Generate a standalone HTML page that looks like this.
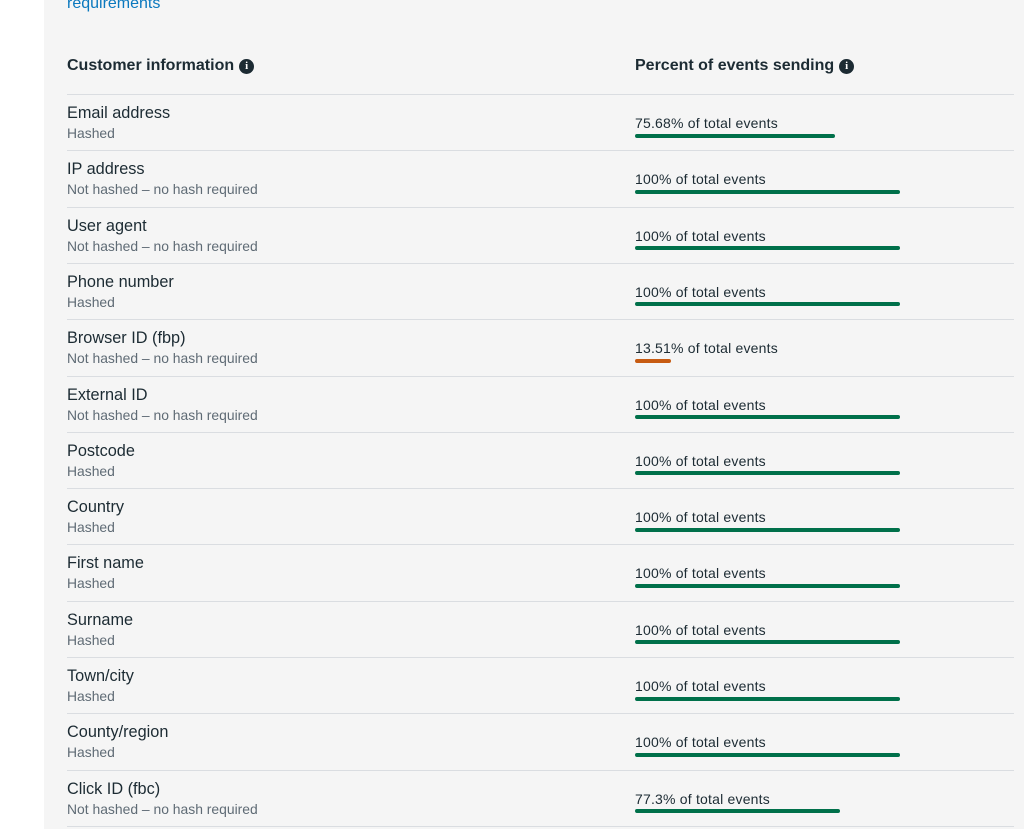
<!DOCTYPE html>
<html><head><meta charset="utf-8"><style>
*{margin:0;padding:0;box-sizing:border-box}
body{width:1024px;height:835px;background:#fff;font-family:"Liberation Sans",sans-serif;position:relative;overflow:hidden}
.panel{position:absolute;left:44px;top:0;width:980px;height:829px;background:#f5f5f5}
.abs{position:absolute;white-space:nowrap}
.h{font-weight:bold;font-size:16px;color:#1c2b33}
.i{display:inline-block;width:15px;height:15px;border-radius:50%;background:#1c2b33;color:#fff;font-size:11px;line-height:15px;text-align:center;font-family:"Liberation Serif",serif;font-weight:bold;vertical-align:1px;margin-left:5px}
.line{position:absolute;left:67px;width:947px;height:1px;background:#dadde1}
.t{font-size:16.3px;color:#1c2b33}
.s{font-size:13.9px;color:#5f6b75}
.p{font-size:14px;letter-spacing:0.2px;color:#1c2b33}
.bar{position:absolute;height:4px;border-radius:2px;background:#00704a}
</style></head><body>
<div class="panel"></div>
<div class="abs" style="left:67px;top:-5px;font-size:16px;color:#0a78be">requirements</div>
<div class="abs h" style="left:67px;top:57px">Customer information<span class="i">i</span></div>
<div class="abs h" style="left:635px;top:57px">Percent of events sending<span class="i">i</span></div>
<div id="rows"></div>
<script>
var d=[["Email address","Hashed","75.68%",200],["IP address","Not hashed – no hash required","100%",265],["User agent","Not hashed – no hash required","100%",265],["Phone number","Hashed","100%",265],["Browser ID (fbp)","Not hashed – no hash required","13.51%",36],["External ID","Not hashed – no hash required","100%",265],["Postcode","Hashed","100%",265],["Country","Hashed","100%",265],["First name","Hashed","100%",265],["Surname","Hashed","100%",265],["Town/city","Hashed","100%",265],["County/region","Hashed","100%",265],["Click ID (fbc)","Not hashed – no hash required","77.3%",205]];
var h='';
for(var k=0;k<d.length;k++){var y=94+k*56.3;
h+='<div class="line" style="top:'+y+'px"></div>';
h+='<div class="abs t" style="left:67px;top:'+(y+10)+'px">'+d[k][0]+'</div>';
h+='<div class="abs s" style="left:67px;top:'+(y+31)+'px">'+d[k][1]+'</div>';
h+='<div class="abs p" style="left:635px;top:'+(y+21)+'px">'+d[k][2]+' of total events</div>';
h+='<div class="bar" style="left:635px;top:'+(y+39.5)+'px;width:'+d[k][3]+'px;'+(k==4?'background:#c75b12':'')+'"></div>';}
h+='<div class="line" style="top:826px"></div>';
document.getElementById('rows').innerHTML=h;
</script>
</body></html>
